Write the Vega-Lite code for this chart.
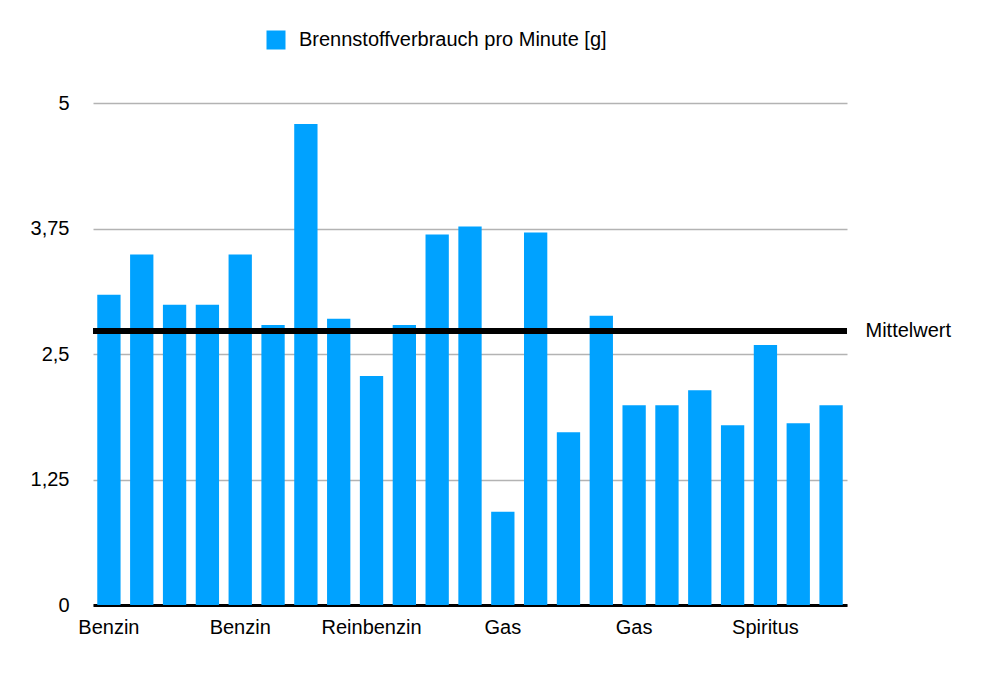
{
  "$schema": "https://vega.github.io/schema/vega-lite/v6.json",
  "autosize": {"type": "none"},
  "padding": {"left": 93, "top": 103, "right": 153, "bottom": 70},
  "width": 754,
  "height": 502,
  "config": {
    "view": {"stroke": null},
    "font": "Liberation Sans",
    "axis": {"labelFont": "Liberation Sans", "labelFontSize": 20, "labelColor": "black"},
    "legend": {"labelFont": "Liberation Sans", "labelFontSize": 20, "labelColor": "black"}
  },
  "data": {
    "values": [
      {"nr": 1, "brennstoff": "Benzin", "verbrauch": 3.09},
      {"nr": 2, "brennstoff": "Benzin", "verbrauch": 3.49},
      {"nr": 3, "brennstoff": "Benzin", "verbrauch": 2.99},
      {"nr": 4, "brennstoff": "Benzin", "verbrauch": 2.99},
      {"nr": 5, "brennstoff": "Benzin", "verbrauch": 3.49},
      {"nr": 6, "brennstoff": "Benzin", "verbrauch": 2.79},
      {"nr": 7, "brennstoff": "Benzin", "verbrauch": 4.79},
      {"nr": 8, "brennstoff": "Benzin", "verbrauch": 2.85},
      {"nr": 9, "brennstoff": "Reinbenzin", "verbrauch": 2.28},
      {"nr": 10, "brennstoff": "Reinbenzin", "verbrauch": 2.79},
      {"nr": 11, "brennstoff": "Reinbenzin", "verbrauch": 3.69},
      {"nr": 12, "brennstoff": "Reinbenzin", "verbrauch": 3.77},
      {"nr": 13, "brennstoff": "Gas", "verbrauch": 0.93},
      {"nr": 14, "brennstoff": "Gas", "verbrauch": 3.71},
      {"nr": 15, "brennstoff": "Gas", "verbrauch": 1.72},
      {"nr": 16, "brennstoff": "Gas", "verbrauch": 2.88},
      {"nr": 17, "brennstoff": "Gas", "verbrauch": 1.99},
      {"nr": 18, "brennstoff": "Gas", "verbrauch": 1.99},
      {"nr": 19, "brennstoff": "Gas", "verbrauch": 2.14},
      {"nr": 20, "brennstoff": "Gas", "verbrauch": 1.79},
      {"nr": 21, "brennstoff": "Spiritus", "verbrauch": 2.59},
      {"nr": 22, "brennstoff": "Spiritus", "verbrauch": 1.81},
      {"nr": 23, "brennstoff": "Spiritus", "verbrauch": 1.99}
    ]
  },
  "layer": [
    {
      "mark": {"type": "bar"},
      "encoding": {
        "x": {
          "field": "nr",
          "type": "ordinal",
          "scale": {"paddingInner": 0.29, "paddingOuter": 0.13},
          "axis": {"title": null, "labels": false, "ticks": false, "domainColor": "black", "domainWidth": 3}
        },
        "y": {
          "field": "verbrauch",
          "type": "quantitative",
          "scale": {"domain": [0, 5], "nice": false},
          "axis": {
            "title": null,
            "values": [0, 1.25, 2.5, 3.75, 5],
            "labelExpr": "replace(toString(datum.value), '.', ',')",
            "domain": false,
            "ticks": false,
            "labelPadding": 24,
            "gridColor": "#b3b3b3",
            "gridWidth": 1.5
          }
        },
        "color": {
          "datum": "Brennstoffverbrauch pro Minute [g]",
          "scale": {"range": ["#00a2ff"]},
          "legend": {
            "title": null,
            "orient": "none",
            "legendX": 173,
            "legendY": -73,
            "padding": 0,
            "symbolType": "square",
            "symbolSize": 361,
            "symbolStrokeWidth": 0,
            "labelOffset": 13,
            "labelLimit": 0
          }
        }
      }
    },
    {
      "transform": [{"filter": "datum.nr % 4 == 1"}],
      "mark": {"type": "text", "dy": 29, "baseline": "alphabetic", "align": "center", "fontSize": 20, "color": "black"},
      "encoding": {
        "x": {"field": "nr", "type": "ordinal"},
        "y": {"datum": 0, "type": "quantitative", "axis": null},
        "text": {"field": "brennstoff"}
      }
    },
    {
      "data": {"values": [{"bezeichnung": "Mittelwert", "wert": 2.73}]},
      "mark": {"type": "rule", "color": "black", "strokeWidth": 6},
      "encoding": {
        "y": {
          "field": "wert",
          "type": "quantitative",
          "axis": {
            "orient": "right",
            "title": null,
            "values": [2.73],
            "labelExpr": "'Mittelwert'",
            "domain": false,
            "ticks": false,
            "grid": false,
            "labelPadding": 18
          }
        }
      }
    }
  ],
  "resolve": {"axis": {"y": "independent"}}
}
